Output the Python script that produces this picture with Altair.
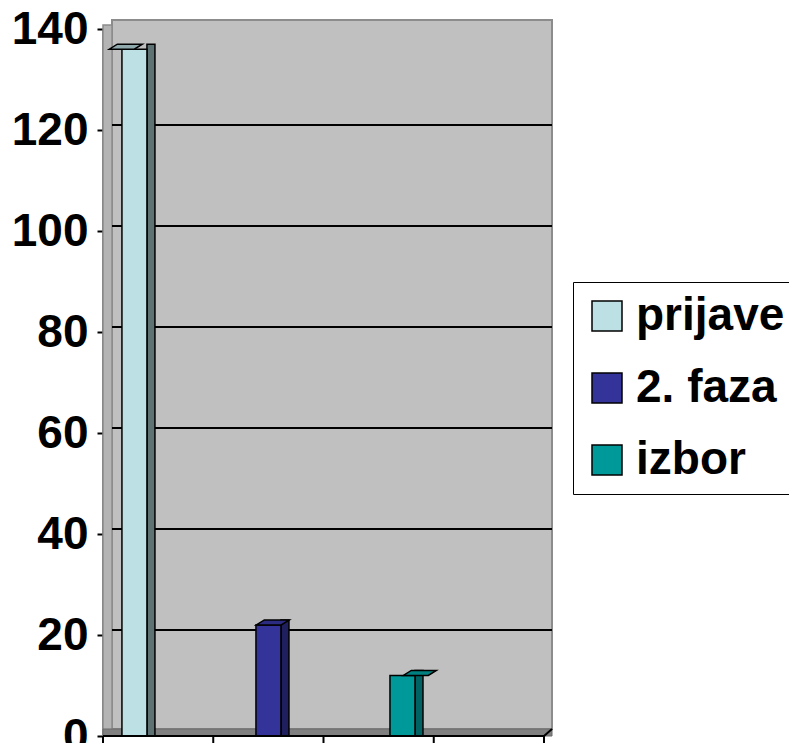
import altair as alt
import pandas as pd

# ---- data ----
series = ["prijave", "2. faza", "izbor"]
values = [136, 22, 12]
y_ticks = [0, 20, 40, 60, 80, 100, 120, 140]
grid_values = [20, 40, 60, 80, 100, 120]
x_ticks = [0, 1, 2, 3, 4]

# ---- styles ----
front_colors = ["#BDE0E4", "#333399", "#009999"]
side_colors = ["#5E7274", "#1F1F5E", "#006262"]
top_colors = ["#8FA9AC", "#2B2B80", "#008080"]
FONT = "Liberation Sans"
W, H = 441, 707
DX, DY = 8, -5

df = pd.DataFrame({"series": series, "value": values})
grid_df = pd.DataFrame({"v": grid_values})
tick_df = pd.DataFrame({"t": x_ticks})
one = pd.DataFrame({"a": [0]})

xscale = alt.Scale(domain=series, paddingInner=0.8134, paddingOuter=0.552, align=0.128)
yscale = alt.Scale(domain=[0, 140], nice=False)
yaxis = alt.Axis(title=None, values=y_ticks, labelFont=FONT, labelFontSize=46,
                 labelFontWeight="bold", labelColor="black", domainColor="black",
                 domainWidth=2, tickColor="black", tickWidth=2, tickSize=6,
                 labelPadding=9, grid=False, labelFlush=False, labelOverlap=False)

wall = alt.Chart(one).mark_rect(fill="#C0C0C0", stroke="#8C8C8C", strokeWidth=2).encode(
    x=alt.value(9), x2=alt.value(W + 8), y=alt.value(-9), y2=alt.value(H - 7))
left_wall = alt.Chart(one).mark_rect(fill="#B4B4B4", stroke="#8C8C8C", strokeWidth=1.5).encode(
    x=alt.value(0), x2=alt.value(9), y=alt.value(-4), y2=alt.value(H))
floor = alt.Chart(one).mark_rect(fill="#808080", stroke="#6A6A6A", strokeWidth=1).encode(
    x=alt.value(0), x2=alt.value(W + 8), y=alt.value(H - 7), y2=alt.value(H))

grid = alt.Chart(grid_df).mark_rule(color="black", strokeWidth=2, yOffset=DY).encode(
    y=alt.Y("v:Q", scale=yscale, axis=yaxis),
    x=alt.value(9), x2=alt.value(W + 8))

side = alt.Chart(df).mark_bar(width=DX, xOffset=12.5 + DX / 2, yOffset=DY, y2Offset=0,
                              stroke="black", strokeWidth=1.5).encode(
    x=alt.X("series:N", scale=xscale, axis=None, sort=series),
    y=alt.Y("value:Q", scale=yscale, axis=yaxis, stack=None),
    fill=alt.Fill("series:N", scale=alt.Scale(domain=series, range=side_colors), legend=None))

front = alt.Chart(df).mark_bar(stroke="black", strokeWidth=1.5).encode(
    x=alt.X("series:N", scale=xscale, axis=None, sort=series),
    y=alt.Y("value:Q", scale=yscale, axis=yaxis, stack=None),
    color=alt.Color("series:N", scale=alt.Scale(domain=series, range=front_colors),
                    sort=series,
                    legend=alt.Legend(title=None, orient="none", legendX=470, legendY=253,
                                      direction="vertical", symbolType="square",
                                      symbolSize=900, symbolStrokeColor="black",
                                      symbolStrokeWidth=1.5, labelFont=FONT,
                                      labelFontSize=46, labelFontWeight="bold",
                                      labelColor="black", labelLimit=400, labelOffset=6,
                                      rowPadding=26, padding=11, strokeColor="black",
                                      fillColor="white", cornerRadius=0)))

top_path = "M-1,0L0.515,0L1,-0.303L-0.515,-0.303Z"
top = alt.Chart(df).mark_point(shape=top_path, filled=True, size=1089, opacity=1,
                               stroke="black", strokeWidth=1.5, xOffset=DX / 2).encode(
    x=alt.X("series:N", scale=xscale, axis=None, sort=series),
    y=alt.Y("value:Q", scale=yscale, axis=yaxis),
    fill=alt.Fill("series:N", scale=alt.Scale(domain=series, range=top_colors), legend=None))

xdomain = alt.Chart(one).mark_rule(color="black", strokeWidth=2).encode(
    x=alt.value(0), x2=alt.value(W), y=alt.value(H), y2=alt.value(H))
xdomain2 = alt.Chart(one).mark_rule(color="black", strokeWidth=2).encode(
    x=alt.value(W), x2=alt.value(W + 8), y=alt.value(H), y2=alt.value(H - 7))
xticks = alt.Chart(tick_df).mark_rule(color="black", strokeWidth=2).encode(
    x=alt.X("t:Q", scale=alt.Scale(domain=[0, 4], nice=False, zero=False), axis=None),
    y=alt.value(H), y2=alt.value(H + 7))

chart = alt.layer(wall, left_wall, floor, grid, side, front, top, xdomain, xdomain2, xticks).resolve_scale(
    x="independent", fill="independent"
).properties(
    width=W, height=H, background="white",
    autosize=alt.AutoSizeParams(type="none"),
    padding={"left": 95, "top": 21, "right": 245, "bottom": 7},
).configure_view(stroke=None)

chart.save("out.html", embed_options={"renderer": "svg", "actions": False})
